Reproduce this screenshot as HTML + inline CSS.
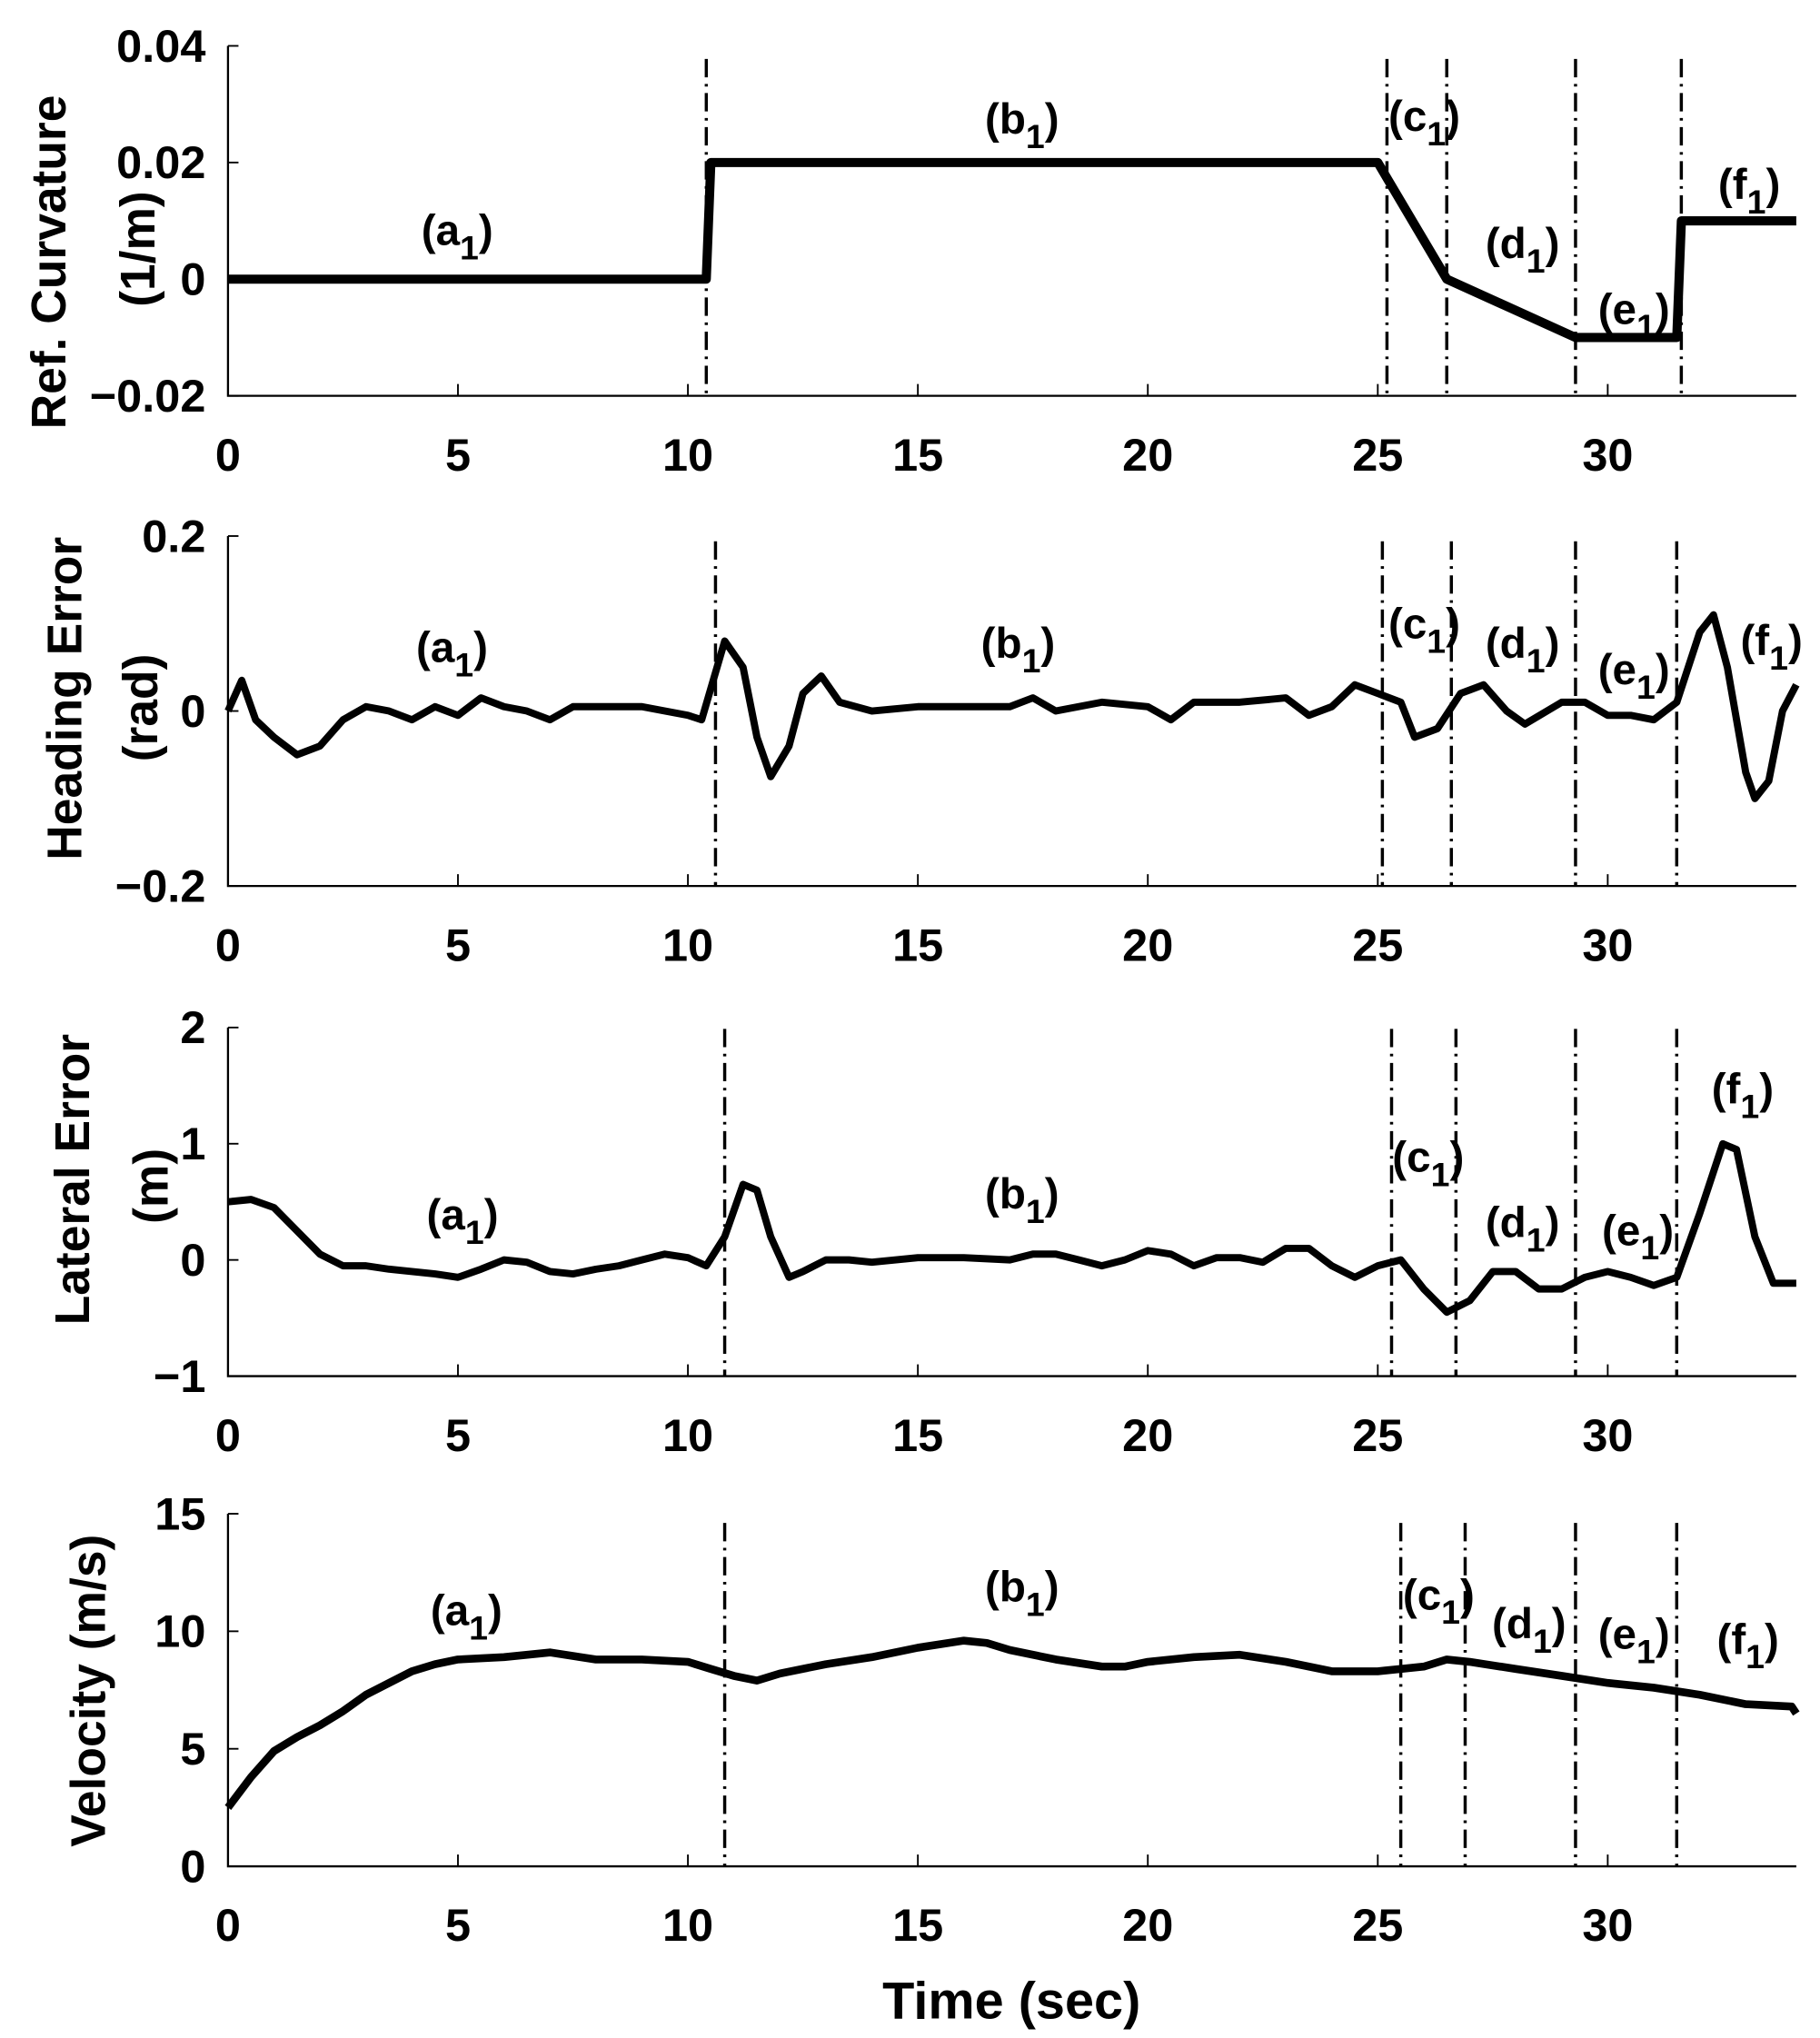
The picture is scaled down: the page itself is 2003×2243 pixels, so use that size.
<!DOCTYPE html>
<html><head><meta charset="utf-8"><style>
html,body{margin:0;padding:0;background:#fff}
svg{display:block}
text{font-family:"Liberation Sans",Arial,sans-serif;font-weight:bold;fill:#000}
</style></head><body>
<svg id="fig" width="2003" height="2243" viewBox="0 0 1389 1555" preserveAspectRatio="none" xmlns="http://www.w3.org/2000/svg"></svg>
<script>
// ---- data ----
const xTicks = [0,5,10,15,20,25,30];
const curvT = [0,10.4,10.5,25,26.5,29.3,31.5,31.6,34.1];
const curvV = [0,0,0.02,0.02,0,-0.01,-0.01,0.01,0.01];
const headT = [0,0.3,0.6,1,1.5,2,2.5,3,3.5,4,4.5,5,5.5,6,6.5,7,7.5,8,8.5,9,9.5,10,10.3,10.8,11.2,11.5,11.8,12.2,12.5,12.9,13.3,14,15,16,17,17.5,18,19,20,20.5,21,22,23,23.5,24,24.5,25,25.5,25.8,26.3,26.8,27.3,27.8,28.2,29,29.5,30,30.5,31,31.5,32,32.3,32.6,33,33.2,33.5,33.8,34.1];
const headV = [0,0.035,-0.01,-0.03,-0.05,-0.04,-0.01,0.005,0,-0.01,0.005,-0.005,0.015,0.005,0,-0.01,0.005,0.005,0.005,0.005,0,-0.005,-0.01,0.08,0.05,-0.03,-0.075,-0.04,0.02,0.04,0.01,0,0.005,0.005,0.005,0.015,0,0.01,0.005,-0.01,0.01,0.01,0.015,-0.005,0.005,0.03,0.02,0.01,-0.03,-0.02,0.02,0.03,0,-0.015,0.01,0.01,-0.005,-0.005,-0.01,0.01,0.09,0.11,0.05,-0.07,-0.1,-0.08,0,0.03];
const latT = [0,0.5,1,1.5,2,2.5,3,3.5,4,4.5,5,5.5,6,6.5,7,7.5,8,8.5,9,9.5,10,10.4,10.8,11.2,11.5,11.8,12.2,12.5,13,13.5,14,15,16,17,17.5,18,18.5,19,19.5,20,20.5,21,21.5,22,22.5,23,23.5,24,24.5,25,25.5,26,26.5,27,27.5,28,28.5,29,29.5,30,30.5,31,31.5,32,32.5,32.8,33.2,33.6,34.1];
const latV = [0.5,0.52,0.45,0.25,0.05,-0.05,-0.05,-0.08,-0.1,-0.12,-0.15,-0.08,0,-0.02,-0.1,-0.12,-0.08,-0.05,0,0.05,0.02,-0.05,0.2,0.65,0.6,0.2,-0.15,-0.1,0,0,-0.02,0.02,0.02,0,0.05,0.05,0,-0.05,0,0.08,0.05,-0.05,0.02,0.02,-0.02,0.1,0.1,-0.05,-0.15,-0.05,0,-0.25,-0.45,-0.35,-0.1,-0.1,-0.25,-0.25,-0.15,-0.1,-0.15,-0.22,-0.15,0.4,1.0,0.95,0.2,-0.2,-0.2];
const velT = [0,0.5,1,1.5,2,2.5,3,3.5,4,4.5,5,6,7,8,9,10,10.5,11,11.5,12,13,14,15,16,16.5,17,18,19,19.5,20,21,22,23,24,25,25.5,26,26.5,27,28,29,30,31,32,33,34,34.1];
const velV = [2.5,3.8,4.9,5.5,6,6.6,7.3,7.8,8.3,8.6,8.8,8.9,9.1,8.8,8.8,8.7,8.4,8.1,7.9,8.2,8.6,8.9,9.3,9.6,9.5,9.2,8.8,8.5,8.5,8.7,8.9,9.0,8.7,8.3,8.3,8.4,8.5,8.8,8.7,8.4,8.1,7.8,7.6,7.3,6.9,6.8,6.5];
const p1Ticks = [-0.02,0,0.02,0.04], p1Labels = ["\u22120.02","0","0.02","0.04"];
const p2Ticks = [-0.2,0,0.2], p2Labels = ["\u22120.2","0","0.2"];
const p3Ticks = [-1,0,1,2], p3Labels = ["\u22121","0","1","2"];
const p4Ticks = [0,5,10,15], p4Labels = ["0","5","10","15"];
const p1Phases = [10.4,25.2,26.5,29.3,31.6];
const p2Phases = [10.6,25.1,26.6,29.3,31.5];
const p3Phases = [10.8,25.3,26.7,29.3,31.5];
const p4Phases = [10.8,25.5,26.9,29.3,31.5];
// ---- layout ----
const NS="http://www.w3.org/2000/svg", svg=document.getElementById('fig');
const X0=174, PX=35.1, XMAX=34.1;
const xs=t=>X0+t*PX;
function el(tag,attrs,parent){const e=document.createElementNS(NS,tag);for(const k in attrs)e.setAttribute(k,attrs[k]);(parent||svg).appendChild(e);return e;}
function label(g,x,y,letter,name){
  const t=el('text',{x:x,y:y,'font-size':33,'text-anchor':'middle'},g);
  
  
  t.appendChild(document.createTextNode('('+letter));
  const s=el('tspan',{'font-size':26,dy:11},t);s.textContent='1';
  const s2=el('tspan',{'font-size':33,dy:-11},t);s2.textContent=')';
}
function panel(idx,ymin,ymax,yTop,yBot,ticks,tlabels,T,V,phases,phTop,labels,ylab,lw){
  const g=el('g',{});
  
  
  const ys=v=>yBot-(v-ymin)/(ymax-ymin)*(yBot-yTop);
  const ax=el('path',{d:`M${X0},${yTop}V${yBot}H${xs(XMAX)}`,stroke:'#000','stroke-width':1.6,fill:'none'},g);
  
  
  ticks.forEach((v,i)=>{
    el('line',{x1:X0,x2:X0+8,y1:ys(v),y2:ys(v),stroke:'#000','stroke-width':1.3},g);
    const t=el('text',{x:157,y:ys(v)+12,'font-size':35,'text-anchor':'end'},g);
    
    
    t.textContent=tlabels[i];
  });
  xTicks.forEach(v=>{
    el('line',{x1:xs(v),x2:xs(v),y1:yBot,y2:yBot-9,stroke:'#000','stroke-width':1.3},g);
    const t=el('text',{x:xs(v),y:yBot+57,'font-size':35,'text-anchor':'middle'},g);
    
    
    t.textContent=v;
  });
  phases.forEach(p=>{
    const l=el('line',{x1:xs(p),x2:xs(p),y1:phTop,y2:yBot,stroke:'#000','stroke-width':2.4,'stroke-dasharray':'14,5,2,5'},g);
    
    
  });
  let d='';T.forEach((t,i)=>{d+=(i?'L':'M')+xs(t).toFixed(1)+','+ys(V[i]).toFixed(1);});
  const line=el('path',{d:d,stroke:'#000','stroke-width':lw,fill:'none','stroke-linejoin':'round'},g);
  
  
  const L='abcdef';
  labels.forEach((p,i)=>label(g,p[0],p[1],L[i],'phase-label-'+L[i]));
  ylab.forEach(([txt,x,y])=>{
    const t=el('text',{x:0,y:0,'font-size':37,'text-anchor':'middle',transform:`translate(${x},${y}) rotate(-90)`},g);
    
    
    t.textContent=txt;
  });
}
panel(1,-0.02,0.04,35,302,p1Ticks,p1Labels,curvT,curvV,p1Phases,45,
 [[349,187],[780,102],[1087,100],[1162,197],[1247,247],[1335,152]],
 [["Ref. Curvature",50,200],["(1/m)",118,190]],7);
panel(2,-0.2,0.2,409,676,p2Ticks,p2Labels,headT,headV,p2Phases,413,
 [[345,505],[777,502],[1087,487],[1162,502],[1247,522],[1352,500]],
 [["Heading Error",62,533],["(rad)",120,540]],5.5);
panel(3,-1,2,784,1050,p3Ticks,p3Labels,latT,latV,p3Phases,785,
 [[353,938],[780,922],[1090,894],[1162,944],[1250,950],[1330,842]],
 [["Lateral Error",68,900],["(m)",128,905]],5.5);
panel(4,0,15,1155,1424,p4Ticks,p4Labels,velT,velV,p4Phases,1162,
 [[356,1240],[780,1222],[1098,1228],[1167,1250],[1247,1258],[1334,1262]],
 [["Velocity (m/s)",80,1290]],6);
const xl=el('text',{x:772,y:1540,'font-size':40,'text-anchor':'middle'});


xl.textContent='Time (sec)';
</script>
</body></html>
